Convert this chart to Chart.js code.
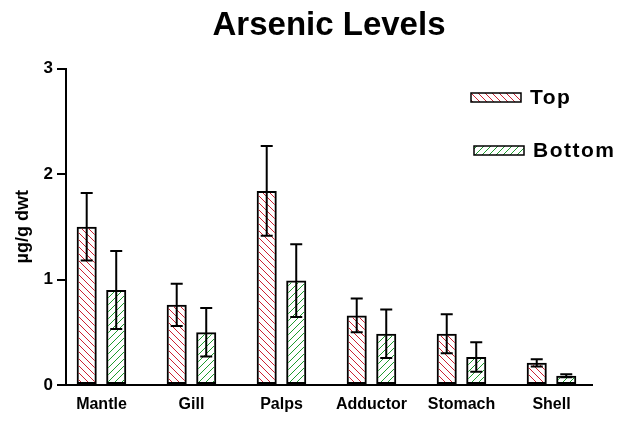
<!DOCTYPE html>
<html>
<head>
<meta charset="utf-8">
<title>Arsenic Levels</title>
<script src="https://cdn.jsdelivr.net/npm/chart.js@4/dist/chart.umd.min.js"></script>
<style>
    html, body { margin: 0; padding: 0; background: #fff; }
    #wrap { width: 626px; height: 425px; }
</style>
</head>
<body>
<div id="wrap"><canvas id="grafico"></canvas></div>
<script>
const categories = ['Mantle', 'Gill', 'Palps', 'Adductor', 'Stomach', 'Shell'];
const topMeans = [1.50, 0.76, 1.84, 0.66, 0.485, 0.21];
const topErrors = [0.32, 0.20, 0.425, 0.16, 0.185, 0.035];
const bottomMeans = [0.90, 0.50, 0.99, 0.485, 0.266, 0.088];
const bottomErrors = [0.37, 0.23, 0.345, 0.23, 0.14, 0.015];
const yTicks = [0, 1, 2, 3];

const fontFamily = '"Liberation Sans", Arial, Helvetica, sans-serif';
const redHatch = '#cc2233';
const greenHatch = '#1e9a2e';

function makeHatch(color, direction) {
    const size = 7;
    const c = document.createElement('canvas');
    c.width = size;
    c.height = size;
    const g = c.getContext('2d');
    g.strokeStyle = color;
    g.lineWidth = 1;
    g.beginPath();
    if (direction === 'back') {
        g.moveTo(-1, -1); g.lineTo(size + 1, size + 1);
        g.moveTo(-1, size - 1); g.lineTo(1, size + 1);
        g.moveTo(size - 1, -1); g.lineTo(size + 1, 1);
    } else {
        g.moveTo(-1, size + 1); g.lineTo(size + 1, -1);
        g.moveTo(-1, 1); g.lineTo(1, -1);
        g.moveTo(size - 1, size + 1); g.lineTo(size + 1, size - 1);
    }
    g.stroke();
    return g.createPattern(c, 'repeat');
}

const topPattern = makeHatch(redHatch, 'back');
const bottomPattern = makeHatch(greenHatch, 'fwd');

// barras de erro por cima das barras
const errorBars = {
    id: 'errorBars',
    afterDatasetsDraw(chart) {
        const ctx = chart.ctx;
        const yScale = chart.scales.y;
        const errs = [topErrors, bottomErrors];
        const means = [topMeans, bottomMeans];
        ctx.save();
        ctx.strokeStyle = '#000';
        ctx.lineWidth = 2;
        chart.data.datasets.forEach((ds, d) => {
            const meta = chart.getDatasetMeta(d);
            meta.data.forEach((bar, i) => {
                const yHi = yScale.getPixelForValue(means[d][i] + errs[d][i]);
                const yLo = yScale.getPixelForValue(means[d][i] - errs[d][i]);
                const cap = 6;
                ctx.beginPath();
                ctx.moveTo(bar.x, yHi);
                ctx.lineTo(bar.x, yLo);
                ctx.moveTo(bar.x - cap, yHi);
                ctx.lineTo(bar.x + cap, yHi);
                ctx.moveTo(bar.x - cap, yLo);
                ctx.lineTo(bar.x + cap, yLo);
                ctx.stroke();
            });
        });
        ctx.restore();
    }
};

// legenda desenhada à mão, empilhada no canto superior direito
const hatchLegend = {
    id: 'hatchLegend',
    afterDraw(chart) {
        const ctx = chart.ctx;
        const items = [
            { label: 'Top', fill: topPattern, x: 471, y: 93 },
            { label: 'Bottom', fill: bottomPattern, x: 474, y: 146 }
        ];
        ctx.save();
        items.forEach(item => {
            ctx.fillStyle = '#fff';
            ctx.fillRect(item.x, item.y, 50, 9);
            ctx.fillStyle = item.fill;
            ctx.fillRect(item.x, item.y, 50, 9);
            ctx.strokeStyle = '#000';
            ctx.lineWidth = 1.5;
            ctx.strokeRect(item.x, item.y, 50, 9);
            ctx.fillStyle = '#000';
            ctx.font = 'bold 21px ' + fontFamily;
            ctx.letterSpacing = '1.5px';
            ctx.textBaseline = 'middle';
            ctx.textAlign = 'left';
            ctx.fillText(item.label, item.x + 59, item.y + 5);
        });
        ctx.restore();
    }
};

function toPoints(values) {
    return values.map((v, i) => ({ x: i, y: v }));
}

const ctx = document.getElementById('grafico').getContext('2d');
new Chart(ctx, {
    type: 'bar',
    data: {
        datasets: [{
            label: 'Top',
            data: toPoints(topMeans),
            backgroundColor: topPattern,
            borderColor: '#000',
            borderWidth: 2,
            borderSkipped: false
        }, {
            label: 'Bottom',
            data: toPoints(bottomMeans),
            backgroundColor: bottomPattern,
            borderColor: '#000',
            borderWidth: 2,
            borderSkipped: false
        }]
    },
    plugins: [errorBars, hatchLegend],
    options: {
        responsive: true,
        maintainAspectRatio: false,
        animation: false,
        categoryPercentage: 0.656,
        barPercentage: 0.68,
        layout: { padding: { left: 0, right: 34, top: 0, bottom: 0 } },
        plugins: {
            legend: { display: false },
            tooltip: { enabled: false },
            title: {
                display: true,
                text: 'Arsenic Levels',
                fullSize: false,
                color: '#000',
                font: { family: fontFamily, size: 33, weight: 'bold' },
                padding: { top: 6, bottom: 23 }
            }
        },
        scales: {
            x: {
                type: 'linear',
                min: -0.394,
                max: 5.45,
                offset: false,
                grid: { display: false, drawTicks: false, offset: false },
                border: { display: true, color: '#000', width: 2 },
                ticks: {
                    stepSize: 1,
                    includeBounds: false,
                    autoSkip: false,
                    maxRotation: 0,
                    padding: 10,
                    color: '#000',
                    font: { family: fontFamily, size: 16, weight: 'bold' },
                    callback: (v) => categories[v] ?? ''
                },
                afterFit: (scale) => { scale.height = 40; }
            },
            y: {
                min: 0,
                max: 3,
                grid: {
                    drawOnChartArea: false,
                    drawTicks: true,
                    tickLength: 9,
                    color: '#000',
                    lineWidth: 2
                },
                border: { display: true, color: '#000', width: 2 },
                ticks: {
                    stepSize: 1,
                    padding: 4,
                    color: '#000',
                    font: { family: fontFamily, size: 17, weight: 'bold' },
                    callback: (v) => yTicks.includes(v) ? v : ''
                },
                title: {
                    display: true,
                    text: 'µg/g dwt',
                    color: '#000',
                    font: { family: fontFamily, size: 18, weight: 'bold' },
                    padding: { top: 12, bottom: 0 }
                },
                afterFit: (scale) => { scale.width = 66; }
            }
        }
    }
});
</script>
</body>
</html>
